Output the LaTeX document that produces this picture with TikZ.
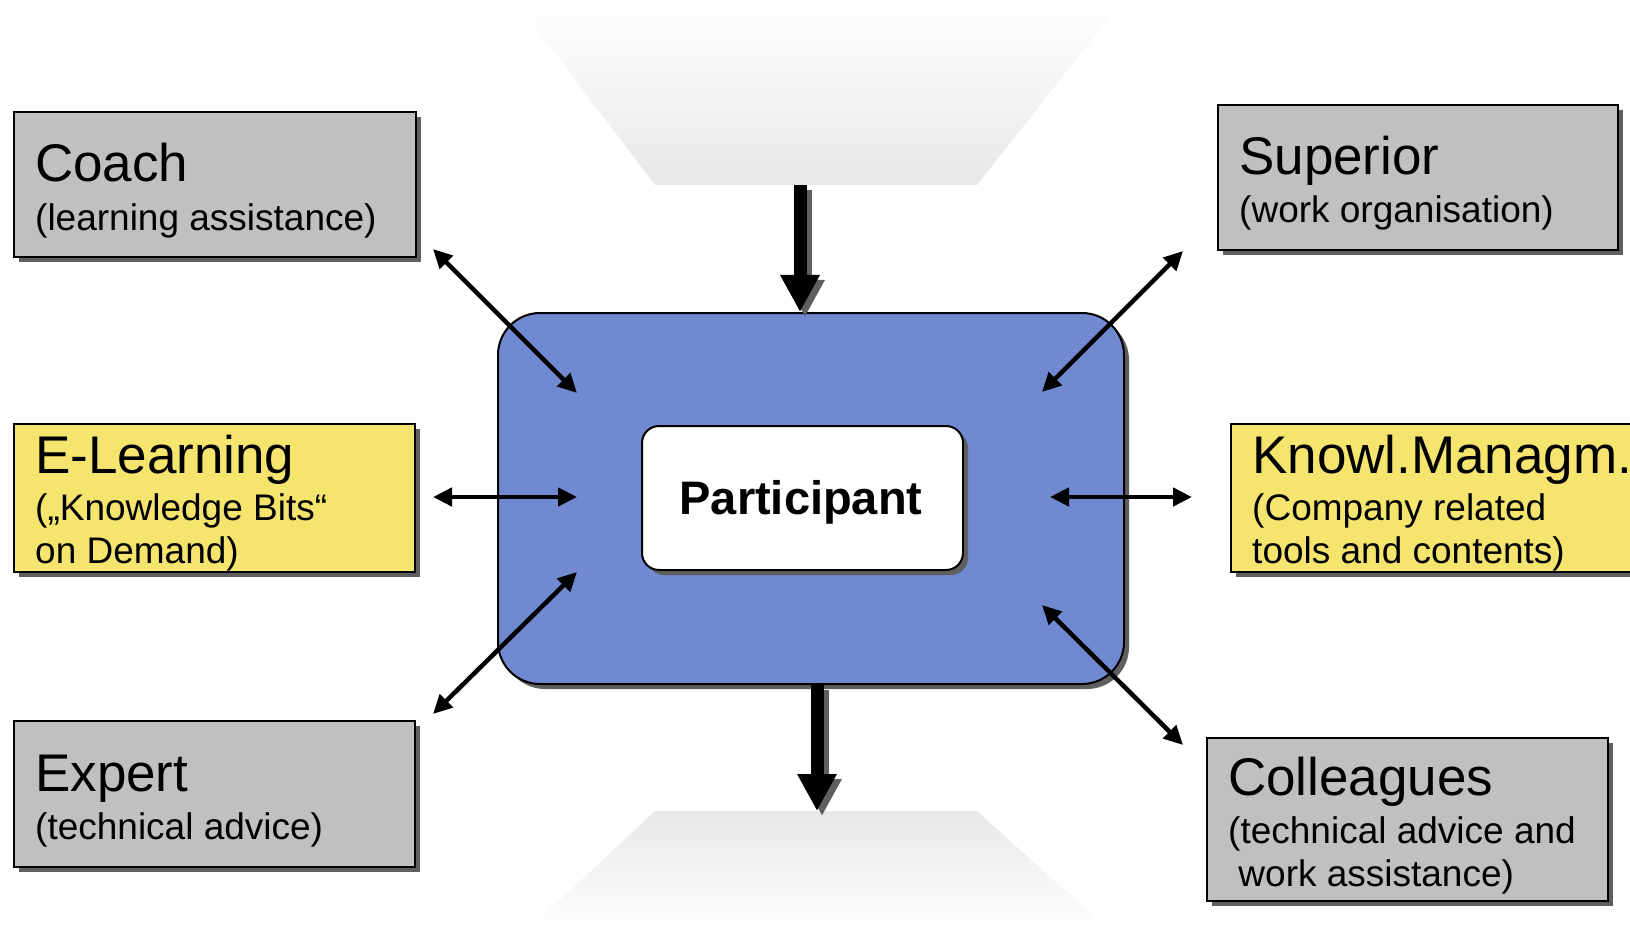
\documentclass[tikz,border=0pt]{standalone}
\usepackage{fontspec}
\setmainfont{Liberation Sans}
\usetikzlibrary{arrows.meta,shadows}
\definecolor{boxgray}{RGB}{192,192,192}
\definecolor{boxyellow}{RGB}{245,228,110}
\definecolor{mainblue}{RGB}{113,137,209}
\definecolor{shadowgray}{RGB}{95,95,95}
\definecolor{trapgray}{RGB}{232,232,232}
\newcommand{\mytitlefont}{\fontsize{53}{60}\selectfont}
\newcommand{\mysubfont}{\fontsize{37}{44}\selectfont}
\newcommand{\mypartfont}{\fontsize{47}{54}\selectfont\bfseries}
\begin{document}
\begin{tikzpicture}[x=1pt,y=-1pt,
  shadowed/.style={drop shadow={shadow xshift=5pt,shadow yshift=-5pt,fill=shadowgray,opacity=1}},
  rolebox/.style={draw=black,line width=2pt,shadowed,anchor=north west,inner sep=0pt},
  graybox/.style={rolebox,fill=boxgray},
  yellowbox/.style={rolebox,fill=boxyellow},
  titletext/.style={anchor=base west,inner sep=0pt,font=\mytitlefont},
  subtext/.style={anchor=base west,inner sep=0pt,font=\mysubfont},
  thinarrow/.style={line width=4.5pt,{Triangle[length=19pt,width=18pt]}-{Triangle[length=19pt,width=18pt]}},
  thickarrow/.style={line width=13pt,-{Triangle[length=37pt,width=37pt]}}
]
\useasboundingbox (0,0) rectangle (1630,933);
\clip (0,0) rectangle (1630,933);
\fill[white] (0,0) rectangle (1630,933);

% faded trapezoids
\shade[top color=white,bottom color=trapgray] (515,0) -- (1123,0) -- (977,185) -- (655,185) -- cycle;
\shade[top color=trapgray,bottom color=white] (655,811) -- (977,811) -- (1112,933) -- (525,933) -- cycle;
\coordinate (topsrc) at (800,185);
\coordinate (botdst) at (817,811);

% role boxes
\node[graybox,minimum width=402,minimum height=145] (coach) at (13,111) {};
\node[titletext] (coachT) at (35,182) {Coach};
\node[subtext] (coachS) at (35,231) {(learning assistance)};

\node[graybox,minimum width=400,minimum height=145] (superior) at (1217,104) {};
\node[titletext] (superiorT) at (1239,175) {Superior};
\node[subtext] (superiorS) at (1239,223) {(work organisation)};

\node[yellowbox,minimum width=401,minimum height=148] (elearn) at (13,423) {};
\node[titletext] (elearnT) at (35,473) {E-Learning};
\node[subtext] (elearnS) at (35,520) {(„Knowledge Bits“};
\node[subtext] (elearnS2) at (35,563) {on Demand)};

\node[yellowbox,minimum width=420,minimum height=148] (knowl) at (1230,423) {};
\node[titletext] (knowlT) at (1252,473) {Knowl.Managm.};
\node[subtext] (knowlS) at (1252,520) {(Company related};
\node[subtext] (knowlS2) at (1252,563) {tools and contents)};

\node[graybox,minimum width=401,minimum height=146] (expert) at (13,720) {};
\node[titletext] (expertT) at (35,791) {Expert};
\node[subtext] (expertS) at (35,839) {(technical advice)};

\node[graybox,minimum width=401,minimum height=163] (colleagues) at (1206,737) {};
\node[titletext] (colleaguesT) at (1228,795) {Colleagues};
\node[subtext] (colleaguesS) at (1228,843) {(technical advice and};
\node[subtext] (colleaguesS2) at (1228,886) {\ work assistance)};

% main box
\node[draw=black,line width=2pt,fill=mainblue,rounded corners=42pt,minimum width=626,minimum height=371,anchor=north west,inner sep=0pt,shadowed] (main) at (497,312) {};
\node[draw=black,line width=2pt,fill=white,rounded corners=17pt,minimum width=321,minimum height=144,anchor=north west,inner sep=0pt,shadowed] (part) at (641,425) {};
\node[anchor=base,inner sep=0pt,font=\mypartfont] (partT) at (801,514) {Participant};

% thick arrows with shadows
\draw[thickarrow,draw=shadowgray,fill=shadowgray] ([shift={(5,5)}]topsrc) -- ([shift={(5,5)}]topsrc |- main.north);
\draw[thickarrow] (topsrc) -- (topsrc |- main.north);
\draw[thickarrow,draw=shadowgray,fill=shadowgray] ([shift={(5,5)}]botdst |- main.south) -- ([shift={(5,5)}]botdst);
\draw[thickarrow] (botdst |- main.south) -- (botdst);

% thin double arrows
\coordinate (c1) at (433,249); \coordinate (c2) at (577,393);
\coordinate (s1) at (1183,251); \coordinate (s2) at (1042,392);
\coordinate (e1) at (433,497); \coordinate (e2) at (577,497);
\coordinate (k1) at (1050,497); \coordinate (k2) at (1192,497);
\coordinate (x1) at (433,714); \coordinate (x2) at (577,572);
\coordinate (g1) at (1042,605); \coordinate (g2) at (1183,745);
\draw[thinarrow] (c1) -- (c2);
\draw[thinarrow] (s1) -- (s2);
\draw[thinarrow] (e1) -- (e2);
\draw[thinarrow] (k1) -- (k2);
\draw[thinarrow] (x1) -- (x2);
\draw[thinarrow] (g1) -- (g2);
\end{tikzpicture}
\end{document}
